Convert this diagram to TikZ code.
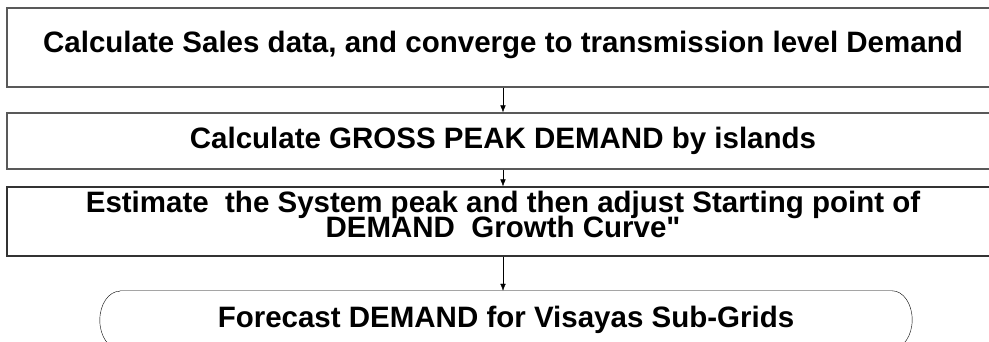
\documentclass[tikz,border=0pt]{standalone}
\usepackage{fontspec}
\setmainfont{Liberation Sans}
\usetikzlibrary{calc,arrows.meta}
\newcommand{\flowfont}{\fontsize{29.5}{25}\selectfont\bfseries\lineskiplimit=-50pt\relax}

\begin{document}
\begin{tikzpicture}[x=1pt,y=1pt,
	stepbox/.style={draw=black!65,line width=1.2pt,rectangle,minimum width=992pt,inner sep=0pt},
	flowtext/.style={font=\flowfont,align=center},
	flow/.style={thin,-{Latex[length=7pt,width=5.5pt]}}]
\useasboundingbox (0,0) rectangle (989,342);

% the three steps
\node[stepbox,flowtext,minimum height=79pt,text height=21pt,text depth=10pt] (box1) at (503,294.5)
	{Calculate Sales data, and converge to transmission level Demand};
\node[stepbox,flowtext,minimum height=56pt] (box2) at (503,201)
	{Calculate GROSS PEAK DEMAND by islands};
\node[stepbox,minimum height=69pt,draw=black!80] (box3) at (503,120.5) {};
\node[flowtext,anchor=north,inner sep=0pt] (box3text) at ($(box3.north)+(0,-5)$)
	{Estimate\ \ the System peak and then adjust Starting point of\\DEMAND\ \ Growth Curve\textquotedbl};

% end of the chart
\node[flowtext,minimum width=772pt,minimum height=58pt,inner sep=0pt] (term) at (506,22)
	{Forecast DEMAND for Visayas Sub-Grids};
\draw[thin] (term.north west) -- (term.north east)
	arc[start angle=90,end angle=-90,x radius=20pt,y radius=29pt]
	-- (term.south west)
	arc[start angle=270,end angle=90,x radius=20pt,y radius=29pt] -- cycle;

\draw[flow] (box1) -- (box2);
\draw[flow] (box2) -- (box3);
\draw[flow] (box3.south) -- (box3.south |- term.north);
\end{tikzpicture}
\end{document}
